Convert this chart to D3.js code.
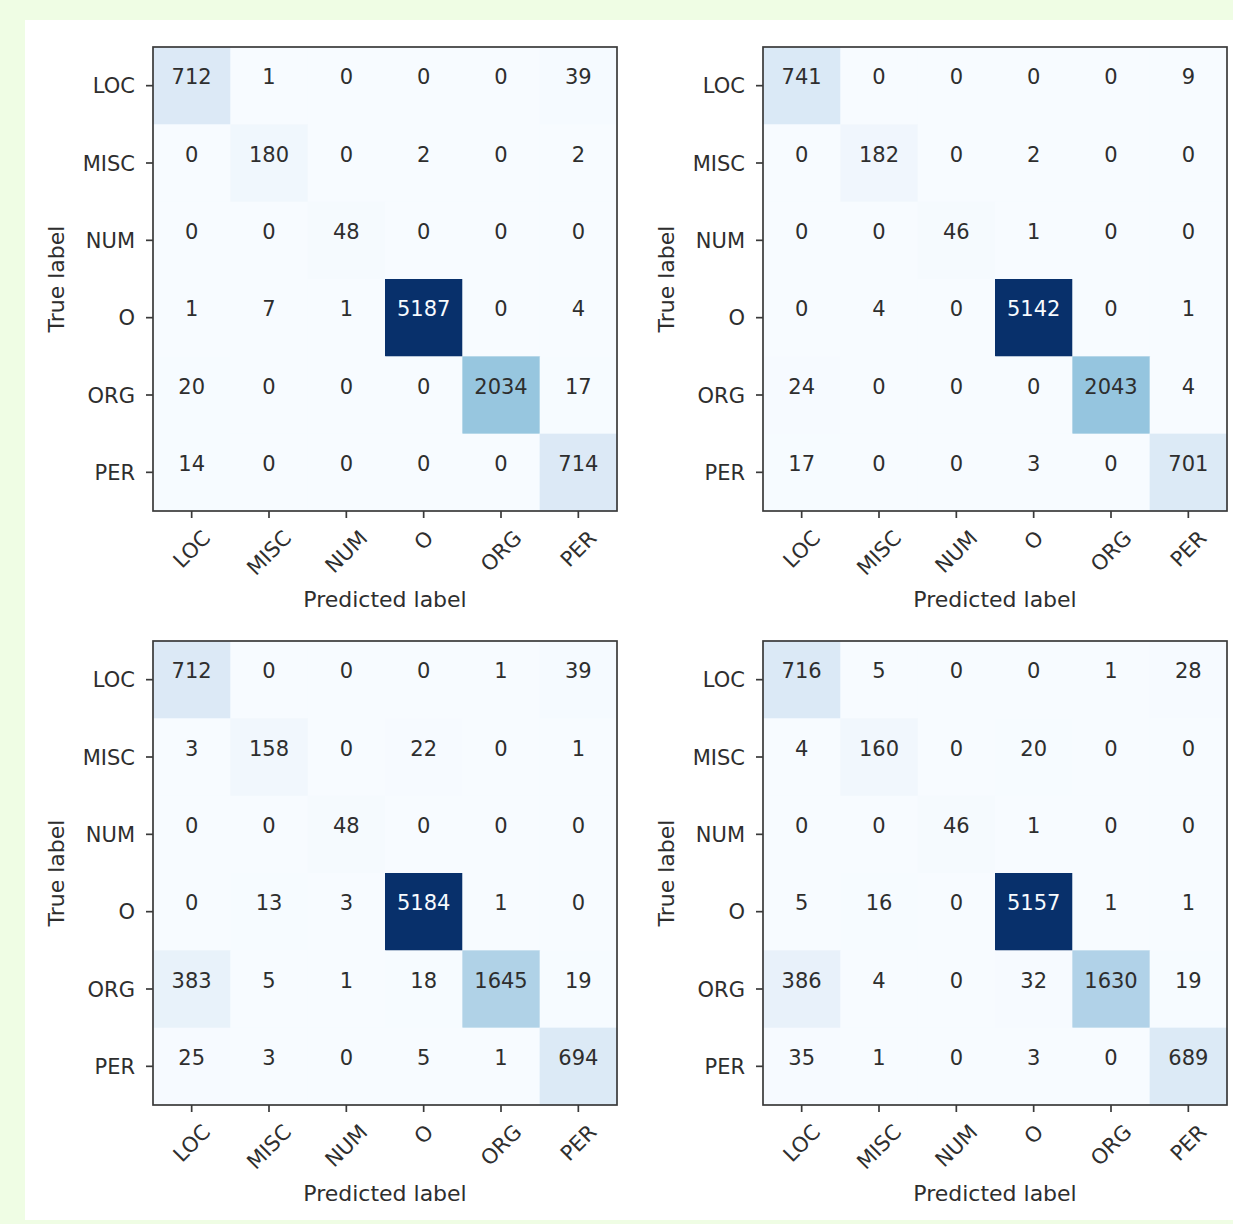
<!DOCTYPE html>
<html>
<head>
<meta charset="utf-8">
<script src="https://cdn.jsdelivr.net/npm/d3@7"></script>
<style>
  html, body { margin: 0; padding: 0; background: #effde4; }
  svg { display: block; }
  text { font-family: "DejaVu Sans", sans-serif; }
</style>
</head>
<body>
<div class="canvas"></div>
<script>
// class labels (same on both axes)
const labels = ['LOC', 'MISC', 'NUM', 'O', 'ORG', 'PER'];

// confusion matrices, rows = true label, cols = predicted label
const cmTopLeft = [
  [712, 1, 0, 0, 0, 39],
  [0, 180, 0, 2, 0, 2],
  [0, 0, 48, 0, 0, 0],
  [1, 7, 1, 5187, 0, 4],
  [20, 0, 0, 0, 2034, 17],
  [14, 0, 0, 0, 0, 714]
];
const cmTopRight = [
  [741, 0, 0, 0, 0, 9],
  [0, 182, 0, 2, 0, 0],
  [0, 0, 46, 1, 0, 0],
  [0, 4, 0, 5142, 0, 1],
  [24, 0, 0, 0, 2043, 4],
  [17, 0, 0, 3, 0, 701]
];
const cmBottomLeft = [
  [712, 0, 0, 0, 1, 39],
  [3, 158, 0, 22, 0, 1],
  [0, 0, 48, 0, 0, 0],
  [0, 13, 3, 5184, 1, 0],
  [383, 5, 1, 18, 1645, 19],
  [25, 3, 0, 5, 1, 694]
];
const cmBottomRight = [
  [716, 5, 0, 0, 1, 28],
  [4, 160, 0, 20, 0, 0],
  [0, 0, 46, 1, 0, 0],
  [5, 16, 0, 5157, 1, 1],
  [386, 4, 0, 32, 1630, 19],
  [35, 1, 0, 3, 0, 689]
];

// matplotlib "Blues" anchor colours
const blues = ['#f7fbff', '#deebf7', '#c6dbef', '#9ecae1', '#6baed6', '#4292c6', '#2171b5', '#08519c', '#08306b'];

const W = 1233, H = 1224;
const fs = 21;          // font size
const size = 464;       // axes box size
const tickLen = 7;
const ink = '#2e2e2e';

const svg = d3.select('.canvas')
  .append('svg')
  .attr('width', W)
  .attr('height', H);

// white figure panel
svg.append('rect')
  .attr('x', 25).attr('y', 20)
  .attr('width', W - 25).attr('height', 1200)
  .attr('fill', '#ffffff');

const panels = [
  {data: cmTopLeft, x: 153, y: 47},
  {data: cmTopRight, x: 763, y: 47},
  {data: cmBottomLeft, x: 153, y: 641},
  {data: cmBottomRight, x: 763, y: 641}
];

const drawMatrix = (p) => {
  const g = svg.append('g').attr('transform', `translate(${p.x},${p.y})`);

  const x = d3.scaleBand().domain(labels).range([0, size]);
  const y = d3.scaleBand().domain(labels).range([0, size]);

  const flat = [];
  p.data.forEach((row, i) => row.forEach((v, j) => flat.push({r: labels[i], c: labels[j], v: v})));
  const vmin = d3.min(flat, d => d.v), vmax = d3.max(flat, d => d.v);

  const colour = d3.scaleLinear()
    .domain(d3.range(blues.length).map(k => vmin + (vmax - vmin) * k / (blues.length - 1)))
    .range(blues)
    .interpolate(d3.interpolateRgb);
  const thresh = (vmax + vmin) / 2;

  // cells
  g.selectAll('.cell')
    .data(flat)
    .enter().append('rect')
      .attr('class', 'cell')
      .attr('x', d => x(d.c))
      .attr('y', d => y(d.r))
      .attr('width', x.bandwidth() + 0.5)
      .attr('height', y.bandwidth() + 0.5)
      .attr('fill', d => colour(d.v));

  // numbers (sit a bit above the cell centre, as in the original)
  g.selectAll('.val')
    .data(flat)
    .enter().append('text')
      .attr('class', 'val')
      .attr('x', d => x(d.c) + x.bandwidth() / 2)
      .attr('y', d => y(d.r) + y.bandwidth() / 2 - 1.3)
      .attr('text-anchor', 'middle')
      .attr('font-size', fs)
      .attr('fill', d => d.v < thresh ? ink : '#f7fbff')
      .text(d => d.v);

  // spines
  g.append('rect')
    .attr('width', size).attr('height', size)
    .attr('fill', 'none')
    .attr('stroke', '#3a3a3a')
    .attr('stroke-width', 1.7);

  // y ticks + labels
  const yt = g.selectAll('.ytick').data(labels).enter().append('g')
    .attr('transform', d => `translate(0,${y(d) + y.bandwidth() / 2})`);
  yt.append('line').attr('x1', -tickLen).attr('x2', 0)
    .attr('stroke', '#3a3a3a').attr('stroke-width', 1.7);
  yt.append('text')
    .attr('x', -18).attr('y', 0.365 * fs)
    .attr('text-anchor', 'end')
    .attr('font-size', fs)
    .attr('fill', ink)
    .text(d => d);

  // x ticks + rotated labels
  const xt = g.selectAll('.xtick').data(labels).enter().append('g')
    .attr('transform', d => `translate(${x(d) + x.bandwidth() / 2},${size})`);
  xt.append('line').attr('y1', 0).attr('y2', tickLen)
    .attr('stroke', '#3a3a3a').attr('stroke-width', 1.7);
  xt.append('text')
    .attr('text-anchor', 'middle')
    .attr('font-size', fs)
    .attr('fill', ink)
    .attr('dy', '0.346em')
    .text(d => d)
    .attr('transform', function() {
      const w = this.getComputedTextLength();
      const h = 1.164 * fs;
      const cy = 14.7 + (w + h) / (2 * Math.SQRT2);
      return `translate(0,${cy}) rotate(-45)`;
    });

  // axis titles
  g.append('text')
    .attr('x', size / 2).attr('y', size + 96)
    .attr('text-anchor', 'middle')
    .attr('font-size', 22)
    .attr('fill', ink)
    .text('Predicted label');

  g.append('text')
    .attr('transform', `translate(-89,${size / 2}) rotate(-90)`)
    .attr('text-anchor', 'middle')
    .attr('font-size', 22)
    .attr('fill', ink)
    .text('True label');
};

panels.forEach(drawMatrix);
</script>
</body>
</html>
